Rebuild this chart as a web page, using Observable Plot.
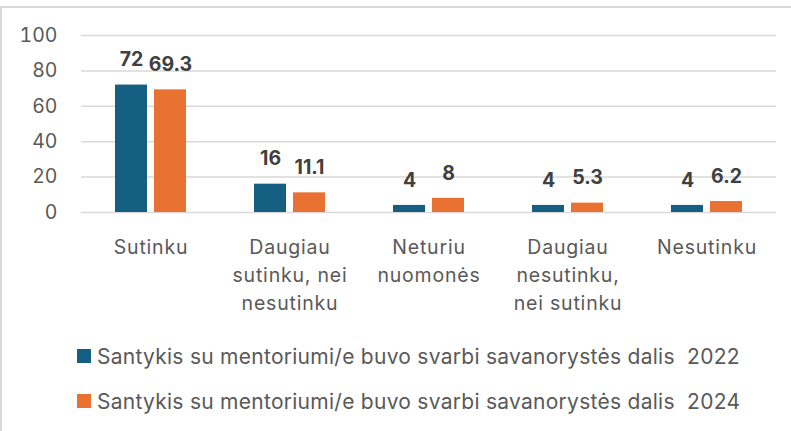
<!DOCTYPE html>
<html><head><meta charset="utf-8">
<script src="https://cdn.jsdelivr.net/npm/d3@7"></script>
<script src="https://cdn.jsdelivr.net/npm/@observablehq/plot@0.6"></script>
<style>
body{margin:0;background:#fff;}
#wrap{position:relative;width:791px;height:431px;overflow:hidden;background:#fff;}
#frame{position:absolute;left:0;top:6px;width:820px;height:500px;border-top:2px solid #d9d9d9;border-left:2px solid #d9d9d9;box-sizing:border-box;}
#chart{position:absolute;left:0;top:0;}
#chart g[aria-label="fx-axis tick label"] text{letter-spacing:0.8px;}
.legend{position:absolute;left:77px;height:20px;font-size:21px;letter-spacing:0.27px;font-family:Inter,"Liberation Sans",Arial,sans-serif;color:#595959;display:flex;align-items:center;white-space:pre;}
.sw{width:14px;height:14px;margin-right:6px;flex:none;}
.lt{display:inline-block;}
</style>
</head><body>
<div id="wrap"><div id="frame"></div><div id="chart"></div>
<div id="leg"></div></div>
<script>
const categories = ["Sutinku", "Daugiau\nsutinku, nei\nnesutinku", "Neturiu\nnuomonės", "Daugiau\nnesutinku,\nnei sutinku", "Nesutinku"];
const years = ["2022", "2024"];
const values2022 = [72, 16, 4, 4, 4];
const values2024 = [69.3, 11.1, 8, 5.3, 6.2];
const seriesLabels = ["Santykis su mentoriumi/e buvo svarbi savanorystės dalis  2022", "Santykis su mentoriumi/e buvo svarbi savanorystės dalis  2024"];
const colors = ["#156082", "#E97132"];
const yTicks = [0, 20, 40, 60, 80, 100];

const series = [values2022, values2024];
const data = categories.flatMap((c, i) => years.map((yr, j) => ({category: c, year: yr, value: series[j][i]})));

const chart = Plot.plot({
  width: 791, height: 330,
  marginTop: 35, marginBottom: 118, marginLeft: 79, marginRight: 13,
  style: {fontFamily: "Inter, 'Liberation Sans', Arial, sans-serif", background: "transparent"},
  fx: {domain: categories, padding: 0, label: null, axis: null},
  x: {domain: years, paddingInner: 0.18, paddingOuter: 0.87, axis: null},
  y: {domain: [0, 100], axis: null},
  color: {domain: years, range: colors},
  marks: [
    Plot.ruleY(yTicks, {stroke: "#d9d9d9", strokeWidth: 1.5}),
    Plot.barY(data, {fx: "category", x: "year", y: "value", fill: "year"}),
    Plot.text(data, {fx: "category", x: "year", y: "value", text: d => String(d.value), dy: -25, lineAnchor: "middle", fontWeight: "bold", fontSize: 19.5, fill: "#404040"}),
    Plot.axisY({ticks: yTicks, tickSize: 0, tickPadding: 24, fontSize: 19.5, fill: "#595959", label: null}),
    Plot.axisFx({anchor: "bottom", tickSize: 0, tickPadding: 22, fontSize: 19.5, lineHeight: 1.42, fill: "#595959", label: null})
  ]
});
document.getElementById("chart").appendChild(chart);

const leg = document.getElementById("leg");
const legCenters = [356, 401];
seriesLabels.forEach((lab, i) => {
  const row = document.createElement("div");
  row.className = "legend";
  row.style.top = (legCenters[i] - 10) + "px";
  const sw = document.createElement("span");
  sw.className = "sw";
  sw.style.background = colors[i];
  const t = document.createElement("span");
  t.className = "lt";
  t.textContent = lab;
  row.appendChild(sw); row.appendChild(t);
  leg.appendChild(row);
});
</script>
</body></html>
